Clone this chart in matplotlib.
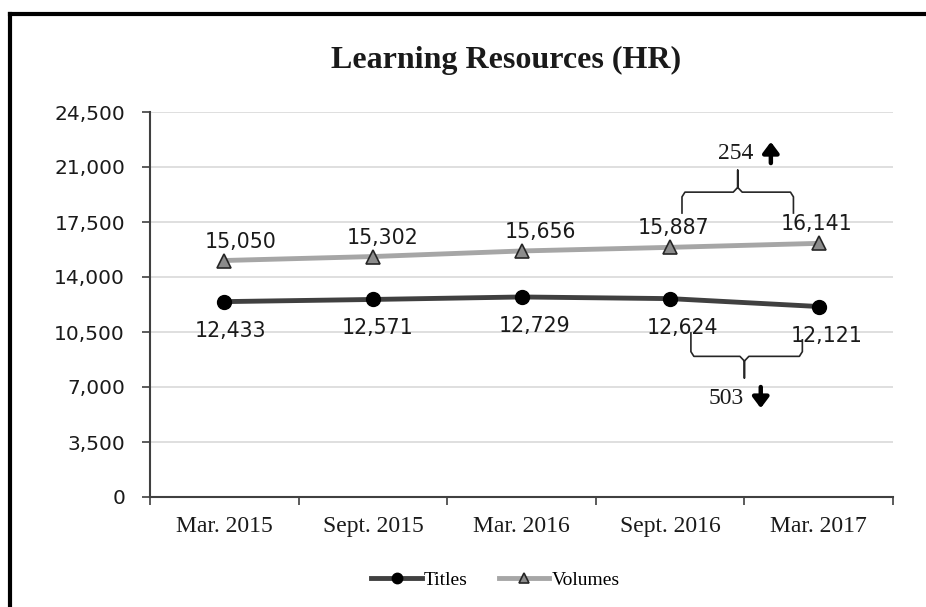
import matplotlib
matplotlib.use('Agg')
import matplotlib.pyplot as plt
from matplotlib.lines import Line2D
from matplotlib.ticker import FuncFormatter

# ── Data ────────────────────────────────────────────────────────────────
periods = ['Mar. 2015', 'Sept. 2015', 'Mar. 2016', 'Sept. 2016', 'Mar. 2017']
titles = [12433, 12571, 12729, 12624, 12121]
volumes = [15050, 15302, 15656, 15887, 16141]
vol_change = volumes[-1] - volumes[-2]     # 254 up
title_change = titles[-2] - titles[-1]     # 503 down

# label nudges (pixels), as placed in the original
title_dx = [6, 5, 13, 12, 8]
vol_dx = [16, 10, 19, 3, -2]

serif = 'Liberation Serif'
sans = 'DejaVu Sans'
C_TITLES = '#404040'
C_VOL = '#a6a6a6'

fig = plt.figure(figsize=(9.26, 6.07), dpi=100)
ax = fig.add_axes([150 / 926, 1 - 497 / 607, 743 / 926, 385 / 607])

x = list(range(len(periods)))

ax.plot(x, titles, '-', color=C_TITLES, lw=3.5, marker='o', ms=10,
        mfc='black', mec='black', label='Titles', zorder=3)
ax.plot(x, volumes, '-', color=C_VOL, lw=3.5, marker='^', ms=10,
        mfc='#8c8c8c', mec='#262626', mew=1.2, label='Volumes', zorder=3)

for i in x:
    ax.annotate(f'{volumes[i]:,}', (i, volumes[i]), xytext=(vol_dx[i], 9),
                textcoords='offset pixels', ha='center', va='bottom',
                fontsize=14.8, family=sans, color='#1a1a1a')
    ax.annotate(f'{titles[i]:,}', (i, titles[i]), xytext=(title_dx[i], -19),
                textcoords='offset pixels', ha='center', va='top',
                fontsize=14.8, family=sans, color='#1a1a1a')

# ── Brackets for the last-period change ────────────────────────────────
def bracket(xl, xr, xc, y_l, y_r, y_bar, y_tip, up=True):
    s = 1 if up else -1
    k = 0.03
    j = s * 300
    xs = [xl, xl, xl + 0.02, xc - k, xc, xc, xc, xc + k, xr - 0.02, xr, xr]
    ys = [y_l, y_bar - j, y_bar, y_bar, y_bar + j, y_tip, y_bar + j, y_bar,
          y_bar, y_bar - j, y_r]
    ax.plot(xs, ys, color='#262626', lw=1.2, solid_joinstyle='round', zorder=4,
            clip_on=False)

def arrow(xa, y0, y1):
    ax.annotate('', xy=(xa, y1), xytext=(xa, y0),
                arrowprops=dict(arrowstyle='-|>,head_length=0.32,head_width=0.24',
                                lw=3.2, color='black', shrinkA=0, shrinkB=0,
                                mutation_scale=20))

bracket(3.08, 3.83, 3.455, 18070, 18070, 19400, 20800, up=True)
ax.text(3.44, 21890, f'{vol_change}', ha='center', va='center', fontsize=17,
        family=serif, color='#1a1a1a')
arrow(3.678, 21250, 22600)

bracket(3.14, 3.89, 3.50, 10440, 10000, 8950, 7570, up=False)
ax.text(3.38, 6300, f'{title_change}', ha='center', va='center', fontsize=17,
        family=serif, color='#1a1a1a')
arrow(3.61, 7000, 5650)

# ── Axes styling ────────────────────────────────────────────────────────
ax.set_xlim(-0.5, len(periods) - 0.5)
ax.set_ylim(0, 24500)
ax.set_yticks(range(0, 24501, 3500))
ax.yaxis.set_major_formatter(FuncFormatter(lambda v, p: f'{int(v):,}'))
ax.set_xticks(x)
ax.set_xticklabels(periods, family=serif, fontsize=17, color='#1a1a1a')
ax.set_xticks([i - 0.5 for i in range(len(periods) + 1)], minor=True)
ax.tick_params(axis='x', which='major', length=0, pad=14)
ax.tick_params(axis='x', which='minor', length=6, width=1.2, color='#404040')
ax.tick_params(axis='y', length=6, width=1.2, color='#404040', pad=12,
               labelsize=14.5, labelcolor='#1a1a1a')
for lab in ax.get_yticklabels():
    lab.set_family(sans)
ax.grid(axis='y', color='#d9d9d9', lw=1.2)
ax.set_axisbelow(True)
for side in ('top', 'right'):
    ax.spines[side].set_visible(False)
for side in ('left', 'bottom'):
    ax.spines[side].set_color('#404040')
    ax.spines[side].set_linewidth(1.5)

fig.text(0.547, 1 - 60 / 607, 'Learning Resources (HR)', ha='center', va='center',
         family=serif, fontsize=23, fontweight='bold', color='#1a1a1a')

leg = fig.legend(loc='center', bbox_to_anchor=(0.535, 1 - 580 / 607), ncol=2,
                 frameon=False, prop={'family': serif, 'size': 14},
                 handlelength=2.6, columnspacing=1.6, handletextpad=0.1,
                 markerscale=0.75)

# cropped screenshot frame (top and left edges)
fig.add_artist(Line2D([10 / 926, 1], [1 - 14 / 607, 1 - 14 / 607], color='black',
                      lw=3, transform=fig.transFigure))
fig.add_artist(Line2D([10 / 926, 10 / 926], [0, 1 - 14 / 607], color='black',
                      lw=3, transform=fig.transFigure))

fig.savefig('out.png', dpi=100)
